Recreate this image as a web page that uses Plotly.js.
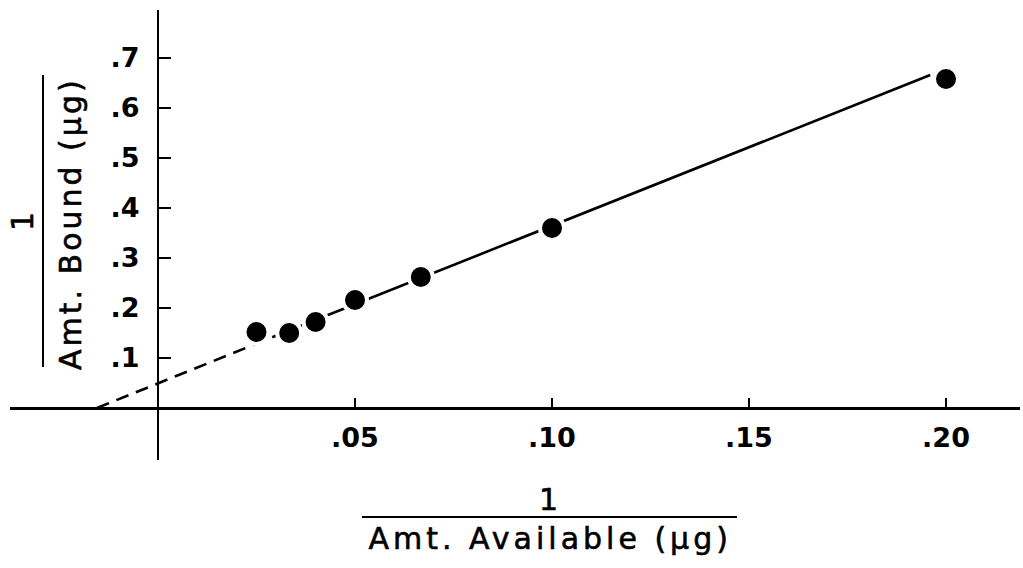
<!DOCTYPE html>
<html><head><meta charset="utf-8">
<script src="https://cdn.plot.ly/plotly-3.0.1.min.js"></script>
<style>
html,body{margin:0;padding:0;background:#fff;}
#chart{width:1023px;height:568px;}
.annotation-text{letter-spacing:3px;stroke:#000;stroke-width:0.6px;}
g.annotation[data-index="1"] .annotation-text{letter-spacing:4px;}
</style></head><body><div id="chart"></div>
<script>
// data (reciprocal plot)
const invAvailable = [0.025, 0.0333, 0.04, 0.05, 0.0667, 0.10, 0.20];
const invBound     = [0.152, 0.150, 0.172, 0.216, 0.262, 0.360, 0.658];
const fitDashX  = [-0.0155, 0.032];
const fitDashY  = [0.0, 0.151];
const fitSolidX = [0.032, 0.196];
const fitSolidY = [0.151, 0.666];
const xTickVals = [0.05, 0.10, 0.15, 0.20];
const xTickText = ['.05', '.10', '.15', '.20'];
const yTickVals = [0.1, 0.2, 0.3, 0.4, 0.5, 0.6, 0.7];
const yTickText = ['.1', '.2', '.3', '.4', '.5', '.6', '.7'];
const xTitleNum = '1';
const xTitleDen = 'Amt. Available (µg)';
const yTitleNum = '1';
const yTitleDen = 'Amt. Bound (µg)';

const xRange = [-0.03756, 0.21878];
const yRange = [-0.104, 0.796];
const W = 1023, H = 568;
const M = {l: 10, r: 3, t: 10, b: 108};
const pw = W - M.l - M.r, ph = H - M.t - M.b;
const px = p => (p - M.l) / pw;          // pixel -> paper x
const py = p => (H - M.b - p) / ph;      // pixel -> paper y

const tickFont = {family: 'DejaVu Sans', size: 27, color: '#000', weight: 'bold'};
const titleFont = {family: 'DejaVu Sans', size: 30, color: '#000'};
const ann = (text, x, y, angle) => ({text: text, xref: 'paper', yref: 'paper', x: x, y: y,
  xanchor: 'center', yanchor: 'middle', textangle: angle || 0, showarrow: false, font: titleFont});

const traces = [
  {x: fitDashX, y: fitDashY, mode: 'lines', line: {color: '#000', width: 2.6, dash: '13px,8px'}, hoverinfo: 'skip'},
  {x: fitSolidX, y: fitSolidY, mode: 'lines', line: {color: '#000', width: 2.6}, hoverinfo: 'skip'},
  {x: invAvailable, y: invBound, mode: 'markers',
   marker: {color: '#000', size: 24, line: {color: '#fff', width: 4}}}
];

const layout = {
  width: W, height: H, margin: M, showlegend: false,
  paper_bgcolor: '#fff', plot_bgcolor: '#fff',
  xaxis: {
    range: xRange, anchor: 'free', position: (0 - yRange[0]) / (yRange[1] - yRange[0]),
    showline: true, linecolor: '#000', linewidth: 2.5,
    ticks: 'inside', ticklen: 9, tickwidth: 2.5, tickcolor: '#000',
    tickmode: 'array', tickvals: xTickVals, ticktext: xTickText,
    tickfont: tickFont, showgrid: false, zeroline: false, ticklabelstandoff: 5
  },
  yaxis: {
    range: yRange, anchor: 'free', position: (0 - xRange[0]) / (xRange[1] - xRange[0]),
    showline: true, linecolor: '#000', linewidth: 2.5,
    ticks: 'inside', ticklen: 12, tickwidth: 2.5, tickcolor: '#000',
    tickmode: 'array', tickvals: yTickVals, ticktext: yTickText,
    tickfont: tickFont, showgrid: false, zeroline: false, ticklabelstandoff: 12
  },
  annotations: [
    ann(xTitleNum, px(550), py(500)),
    ann(xTitleDen, px(550), py(538)),
    ann(yTitleNum, px(22), py(220), -90),
    ann(yTitleDen, px(71), py(224), -90)
  ],
  shapes: [
    {type: 'line', xref: 'paper', yref: 'paper', x0: px(362), x1: px(737), y0: py(517), y1: py(517), line: {color: '#000', width: 2}},
    {type: 'line', xref: 'paper', yref: 'paper', x0: px(43), x1: px(43), y0: py(75), y1: py(367), line: {color: '#000', width: 2}}
  ]
};

Plotly.newPlot('chart', traces, layout, {staticPlot: true, displayModeBar: false});
</script></body></html>
